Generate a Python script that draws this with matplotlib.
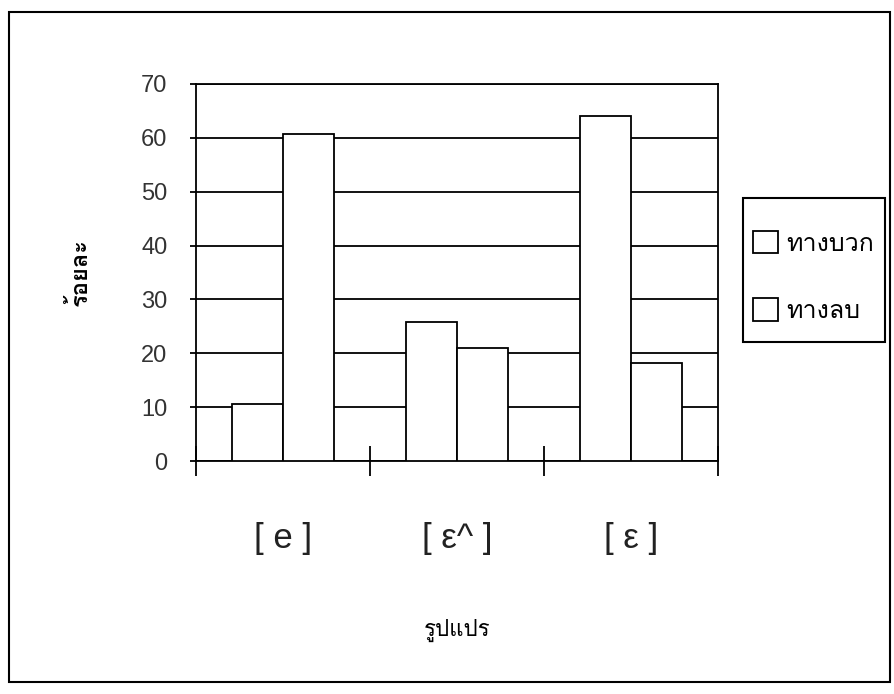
import numpy as np
import matplotlib
matplotlib.use("Agg")
import matplotlib.pyplot as plt
from matplotlib import font_manager
from matplotlib.ft2font import FT2Font
from matplotlib.patches import Rectangle

# data
categories = ["[ e ]", "[ ε^ ]", "[ ε ]"]
positive = [10.5, 25.8, 64.0]   # ทางบวก
negative = [60.8, 21.0, 18.2]   # ทางลบ
series_names = ["ทางบวก", "ทางลบ"]
y_ticks = [0, 10, 20, 30, 40, 50, 60, 70]


# find some installed font that has Thai glyphs
def find_thai_font():
    for f in font_manager.fontManager.ttflist:
        try:
            cmap = FT2Font(f.fname).get_charmap()
        except Exception:
            continue
        if 0x0E17 in cmap and 0x0E1A in cmap:
            return f.name
    return None


thai = find_thai_font()
fams = ["Liberation Sans", "DejaVu Sans"]
if thai:
    fams = ["Liberation Sans", thai, "DejaVu Sans"]
plt.rcParams["font.family"] = fams

W, H = 895, 694
fig = plt.figure(figsize=(W / 100, H / 100), dpi=100)
ax = fig.add_axes([196 / W, 1 - 461 / H, 522 / W, 377 / H])

x = np.arange(len(categories)) + 0.5
w = 0.295
ax.bar(x - w / 2, positive, w, color="white", edgecolor="black", linewidth=1.3,
       label=series_names[0], zorder=3)
ax.bar(x + w / 2, negative, w, color="white", edgecolor="black", linewidth=1.3,
       label=series_names[1], zorder=3)

ax.set_xlim(0, 3)
ax.set_ylim(0, 70)
ax.set_yticks(y_ticks)
ax.yaxis.grid(True, color="black", linewidth=1.3, zorder=0)
ax.set_axisbelow(True)

# boundary ticks between categories, category names in the middle
ax.set_xticks([0, 1, 2, 3])
ax.set_xticklabels([])
ax.set_xticks(x, minor=True)
ax.set_xticklabels(categories, minor=True, fontsize=25, color="#222222")
ax.tick_params(axis="x", which="major", direction="inout", length=21, width=1.3)
ax.tick_params(axis="x", which="minor", length=0, pad=44)
ax.tick_params(axis="y", direction="out", length=4.5, width=1.3, labelsize=17,
               labelcolor="#333333", pad=16)
for s in ax.spines.values():
    s.set_linewidth(1.3)

ax.set_ylabel("ร้อยละ", fontsize=17, fontweight="bold")
ax.yaxis.set_label_coords(-0.20, 0.5)
ax.set_xlabel("รูปแปร", fontsize=16, labelpad=46)

# legend entries without frame, frame drawn separately
leg = fig.legend(loc="upper left", bbox_to_anchor=(753 / W, 1 - 231 / H),
                 frameon=False, fontsize=18, handlelength=1.0, handleheight=1.0,
                 labelspacing=1.7, borderpad=0, borderaxespad=0,
                 handletextpad=0.35)
for p in leg.get_patches():
    p.set_linewidth(1.3)
fig.patches.append(Rectangle((743 / W, 1 - 342 / H), 142 / W, 144 / H,
                             transform=fig.transFigure, fill=False,
                             edgecolor="black", linewidth=1.5))

# frame round the whole chart
fig.patches.append(Rectangle((9 / W, 12 / H), 881 / W, 670 / H,
                             transform=fig.transFigure, fill=False,
                             edgecolor="black", linewidth=1.5))

fig.savefig("out.png", dpi=100)
